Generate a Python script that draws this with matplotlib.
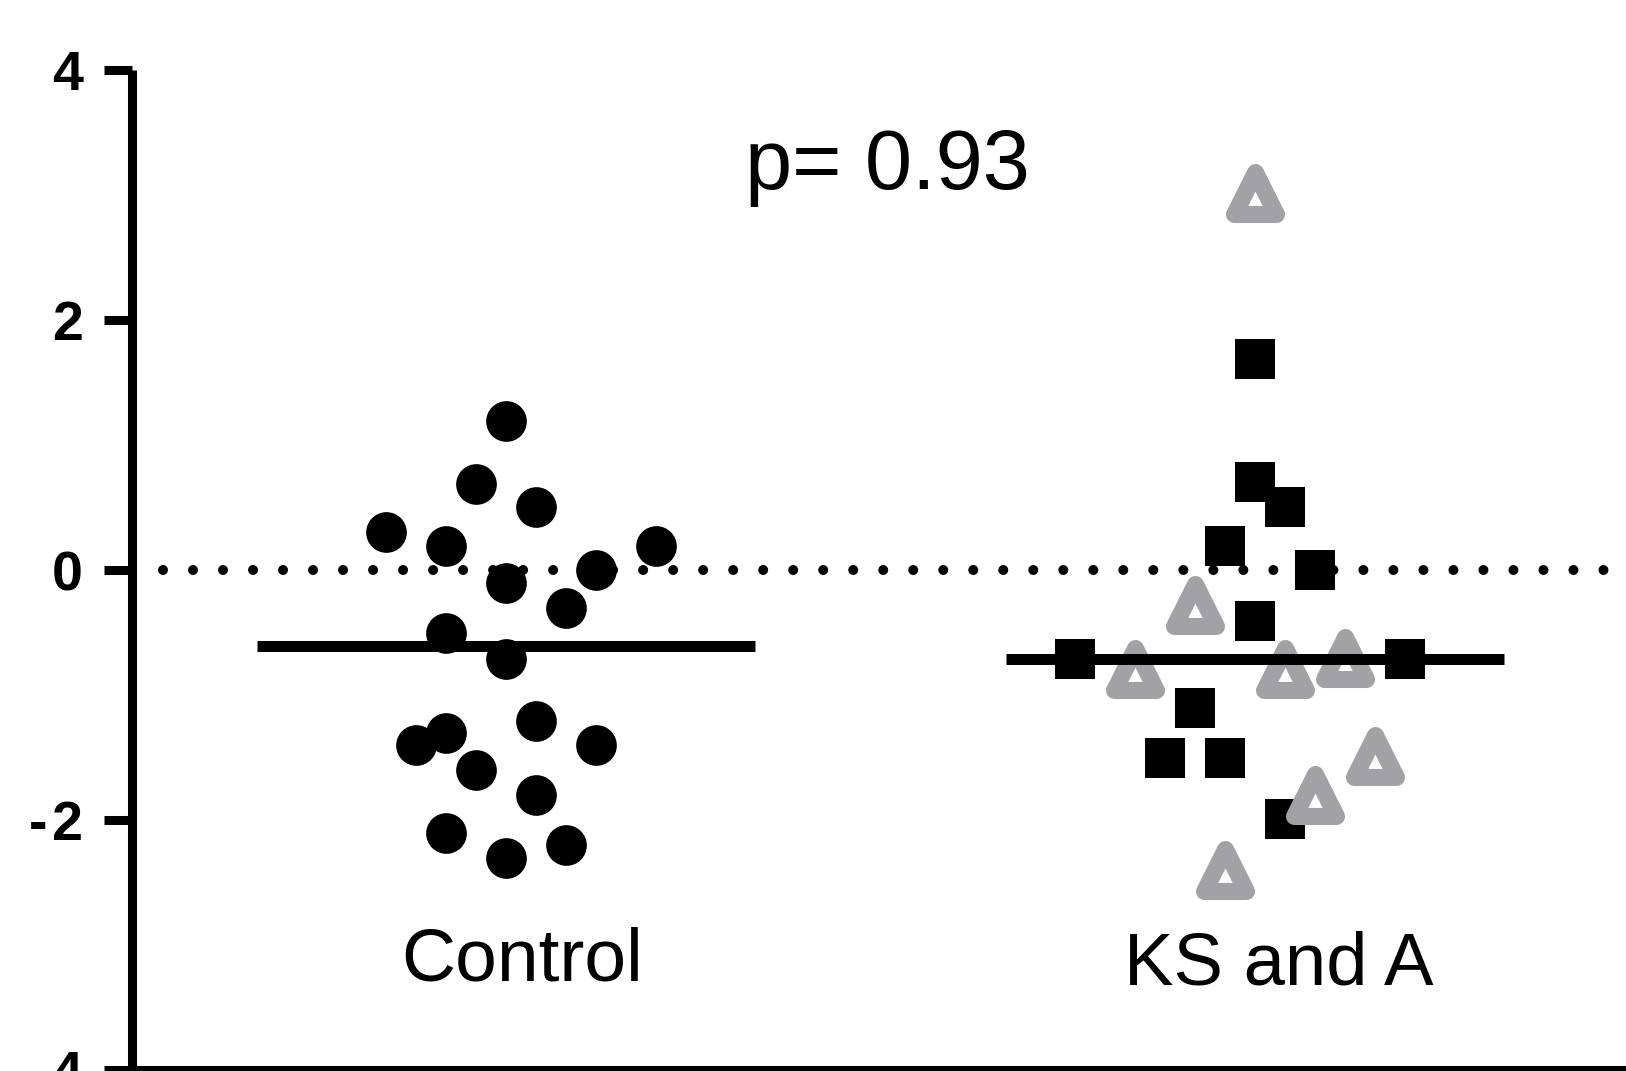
import numpy as np
import matplotlib.pyplot as plt
from matplotlib.markers import MarkerStyle

plt.rcParams['font.family'] = ['Liberation Sans', 'DejaVu Sans']

groups = ['Control', 'KS and A']
p_text = 'p= 0.93'

# values
control = [1.19, 0.69, 0.50, 0.30, 0.19, 0.19, 0.0, -0.10, -0.30, -0.50,
           -0.71, -1.21, -1.40, -1.30, -1.40, -1.60, -1.80, -2.10, -2.20, -2.30]
ks_square = [1.69, 0.70, 0.50, 0.19, 0.0, -0.41, -0.71, -0.71, -1.10,
             -1.50, -1.50, -1.99]
ks_triangle = [3.01, -0.28, -0.79, -0.79, -0.70, -1.49, -1.80, -2.40]

y_ticks = [-4, -2, 0, 2, 4]
y_labels = ['-\u200a4', '-\u200a2', '0', '2', '4']

# scatter column of each point (dot-plot spreading)
control_col = [0, -1, 1, -4, -2, 5, 3, 0, 2, -2, 0, 1, -3, -2, 3, -1, 1, -2, 2, 0]
square_col = [0, 0, 1, -1, 2, 0, -6, 5, -2, -3, -1, 1]
triangle_col = [0, -2, -4, 1, 3, 4, 2, -1]

step = 0.04
half = 0.333
grey = '#a2a2a6'

fig = plt.figure(figsize=(16.26, 10.71), dpi=100)
ax = fig.add_axes([0.0809, 0.000467, 0.9213, 0.93464])

# zero reference line, dotted
ax.axhline(0, xmin=0.021, color='black', lw=7.2, ls=(0, (0.001, 3.0)),
           dash_capstyle='round', zorder=2)

ax.plot(1 + step * np.array(control_col), control, 'o', color='black',
        ms=29.3, mew=0, zorder=3)
ax.plot(2 + step * np.array(square_col), ks_square, 's', color='black',
        ms=29.5, mew=0, zorder=3)
tri = MarkerStyle('^', joinstyle='round')
ax.plot(2 + step * np.array(triangle_col), ks_triangle, ls='none', marker=tri,
        ms=30.4, mfc='white', mec=grey, mew=12.3, zorder=4)

# median lines
med_ctrl = np.median(control)
med_ks = np.median(ks_square + ks_triangle)
ax.plot([1 - half, 1 + half], [med_ctrl, med_ctrl], color='black', lw=7.9,
        solid_capstyle='butt', zorder=5)
ax.plot([2 - half, 2 + half], [med_ks, med_ks], color='black', lw=7.9,
        solid_capstyle='butt', zorder=5)

ax.text(1.509, 3.046, p_text, ha='center', va='baseline', fontsize=61)
ax.text(1.021, -3.28, groups[0], ha='center', va='baseline', fontsize=54)
ax.text(2.032, -3.31, groups[1], ha='center', va='baseline', fontsize=53.5)

ax.set_xlim(0.5, 2.5)
ax.set_ylim(-4, 4)
ax.set_xticks([])
ax.set_yticks(y_ticks)
ax.set_yticklabels(y_labels, fontsize=40, fontweight='bold')
ax.tick_params(axis='y', length=20.5, width=6.5, pad=14.5)
for s in ['top', 'right']:
    ax.spines[s].set_visible(False)
for s in ['left', 'bottom']:
    ax.spines[s].set_linewidth(6.5)
    ax.spines[s].set_capstyle('butt')

fig.savefig('out.png', dpi=100)
